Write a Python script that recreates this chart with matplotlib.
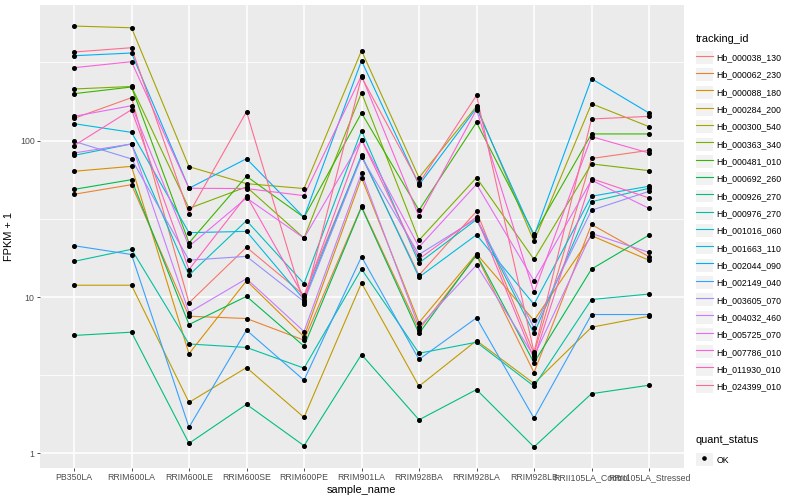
import numpy as np
import matplotlib
matplotlib.use('Agg')
import matplotlib.pyplot as plt
from matplotlib.lines import Line2D
from matplotlib.patches import Patch
from matplotlib.ticker import FixedLocator, NullFormatter

plt.rcParams['font.family'] = ['Liberation Sans', 'DejaVu Sans']

samples = ['PB350LA', 'RRIM600LA', 'RRIM600LE', 'RRIM600SE', 'RRIM600PE',
           'RRIM901LA', 'RRIM928BA', 'RRIM928LA', 'RRIM928LB',
           'RRII105LA_Control', 'RRII105LA_Stressed']

tracking_ids = ['Hb_000038_130', 'Hb_000062_230', 'Hb_000088_180', 'Hb_000284_200',
                'Hb_000300_540', 'Hb_000363_340', 'Hb_000481_010', 'Hb_000692_260',
                'Hb_000926_270', 'Hb_000976_270', 'Hb_001016_060', 'Hb_001663_110',
                'Hb_002044_090', 'Hb_002149_040', 'Hb_003605_070', 'Hb_004032_460',
                'Hb_005725_070', 'Hb_007786_010', 'Hb_011930_010', 'Hb_024399_010']

# ggplot hue palette, 20 niveles
colors = ['#F8766D', '#EA8331', '#D89000', '#C09B00', '#A3A500', '#7CAE00',
          '#39B600', '#00BB4E', '#00BF7D', '#00C1A3', '#00BFC4', '#00BAE0',
          '#00B0F6', '#35A2FF', '#9590FF', '#C77CFF', '#E76BF3', '#FA62DB',
          '#FF62BC', '#FF6C91']

# FPKM + 1 por muestra (orden de samples)
hb_000038_130 = [138.8, 188.3, 9.18, 20.8, 10.3, 79.6, 13.8, 35.3, 4.34, 76.9, 86.7]
hb_000062_230 = [45.4, 52.3, 7.54, 7.29, 5.30, 38.0, 6.20, 18.4, 3.29, 29.1, 18.1]
hb_000088_180 = [63.7, 68.5, 4.34, 12.7, 5.57, 58.0, 6.87, 18.9, 7.08, 24.7, 17.2]
hb_000284_200 = [11.9, 11.9, 2.12, 3.54, 1.70, 12.3, 2.69, 5.27, 2.80, 6.41, 7.54]
hb_000300_540 = [540.6, 527.0, 68.2, 53.1, 49.4, 376.0, 58.0, 165.7, 22.7, 172.3, 122.9]
hb_000363_340 = [214.0, 222.0, 36.9, 50.6, 23.8, 202.6, 23.1, 58.0, 17.4, 71.0, 64.3]
hb_000481_010 = [199.7, 220.3, 22.2, 59.2, 32.3, 150.3, 35.9, 130.9, 25.2, 110.4, 110.4]
hb_000692_260 = [48.8, 56.3, 6.67, 10.1, 4.85, 37.5, 5.85, 18.7, 3.80, 15.1, 24.9]
hb_000926_270 = [5.68, 5.96, 1.16, 2.06, 1.12, 4.29, 1.64, 2.56, 1.10, 2.41, 2.73]
hb_000976_270 = [16.9, 20.2, 5.01, 4.76, 3.51, 15.1, 4.37, 5.14, 2.69, 9.64, 10.45]
hb_001016_060 = [80.5, 95.3, 13.8, 30.8, 12.2, 115.9, 16.5, 31.3, 5.85, 40.7, 49.6]
hb_001663_110 = [128.4, 113.0, 25.8, 26.3, 9.64, 80.8, 13.4, 25.0, 8.99, 44.1, 51.1]
hb_002044_090 = [349.2, 363.4, 49.6, 76.7, 32.3, 324.5, 52.1, 161.8, 24.5, 249.0, 150.3]
hb_002149_040 = [21.3, 18.7, 1.47, 6.14, 2.94, 18.1, 3.99, 7.36, 1.68, 7.73, 7.73]
hb_003605_070 = [99.0, 76.4, 17.2, 18.2, 9.36, 78.4, 18.7, 31.7, 6.38, 35.9, 47.4]
hb_004032_460 = [83.4, 95.3, 7.96, 13.1, 6.02, 62.0, 6.43, 16.0, 4.18, 25.5, 19.3]
hb_005725_070 = [143.0, 167.3, 21.1, 43.0, 23.8, 101.5, 20.9, 52.6, 12.7, 55.9, 36.9]
hb_007786_010 = [292.7, 319.8, 49.6, 49.4, 44.5, 260.3, 32.8, 157.8, 10.7, 106.1, 83.4]
hb_011930_010 = [92.9, 157.8, 15.0, 44.5, 10.0, 101.5, 17.5, 32.5, 4.03, 57.2, 43.0]
hb_024399_010 = [368.8, 392.9, 34.2, 153.2, 9.05, 255.3, 53.4, 194.8, 4.44, 137.6, 143.0]

series = [hb_000038_130, hb_000062_230, hb_000088_180, hb_000284_200, hb_000300_540,
          hb_000363_340, hb_000481_010, hb_000692_260, hb_000926_270, hb_000976_270,
          hb_001016_060, hb_001663_110, hb_002044_090, hb_002149_040, hb_003605_070,
          hb_004032_460, hb_005725_070, hb_007786_010, hb_011930_010, hb_024399_010]

fig = plt.figure(figsize=(8, 5), dpi=100)
ax = fig.add_axes([39.5 / 800, 1 - 468 / 500, 644 / 800, 463 / 500])
ax.set_facecolor('#EBEBEB')

x = np.arange(len(samples))
for vals, col in zip(series, colors):
    ax.plot(x, vals, color=col, lw=0.8, zorder=2)
for vals in series:
    ax.plot(x, vals, ls='none', marker='o', ms=2.6, color='black', zorder=3)

ax.set_yscale('log')
todos = np.log10(np.concatenate(series))
lo, hi = todos.min(), todos.max()
pad = 0.05 * (hi - lo)
ax.set_ylim(10 ** (lo - pad), 10 ** (hi + pad))
ax.set_xlim(-0.6, len(samples) - 0.4)

ax.set_xticks(x)
ax.set_xticklabels(samples)
ax.set_yticks([1, 10, 100])
ax.set_yticklabels(['1', '10', '100'])
ax.yaxis.set_minor_locator(FixedLocator([10 ** 0.5, 10 ** 1.5, 10 ** 2.5]))
ax.yaxis.set_minor_formatter(NullFormatter())
ax.tick_params(which='minor', length=0)
ax.tick_params(which='major', length=2, width=0.6, color='#333333',
               labelsize=6.3, labelcolor='#4D4D4D', pad=1.5)

ax.grid(which='major', color='white', lw=1.1)
ax.grid(which='minor', axis='y', color='white', lw=0.55)
ax.set_axisbelow(True)
for s in ax.spines.values():
    s.set_visible(False)

ax.set_xlabel('sample_name', fontsize=7.9, labelpad=2)
ax.set_ylabel('FPKM + 1', fontsize=7.9, labelpad=4)

# leyendas estilo ggplot: caja gris detras de cada clave
caja = Patch(facecolor='#F2F2F2', edgecolor='none')
h1 = [(caja, Line2D([0], [0], color=c, lw=0.8)) for c in colors]
leg1 = fig.legend(h1, tracking_ids, title='tracking_id', loc='upper left',
                  bbox_to_anchor=(696 / 800, 1 - 34 / 500), frameon=False,
                  fontsize=6.3, title_fontsize=7.9, handlelength=1.9,
                  handleheight=1.9, handletextpad=0.45, labelspacing=0.5,
                  borderpad=0, borderaxespad=0)
leg1._legend_box.align = 'left'
leg1._legend_box.sep = 5

h2 = [(caja, Line2D([0], [0], ls='none', marker='o', ms=2.3, color='black'))]
leg2 = fig.legend(h2, ['OK'], title='quant_status', loc='upper left',
                  bbox_to_anchor=(696 / 800, 1 - 435 / 500), frameon=False,
                  fontsize=6.3, title_fontsize=7.9, handlelength=1.9,
                  handleheight=1.9, handletextpad=0.45, borderpad=0,
                  borderaxespad=0)
leg2._legend_box.align = 'left'
leg2._legend_box.sep = 6

fig.savefig('out.png', dpi=100)
